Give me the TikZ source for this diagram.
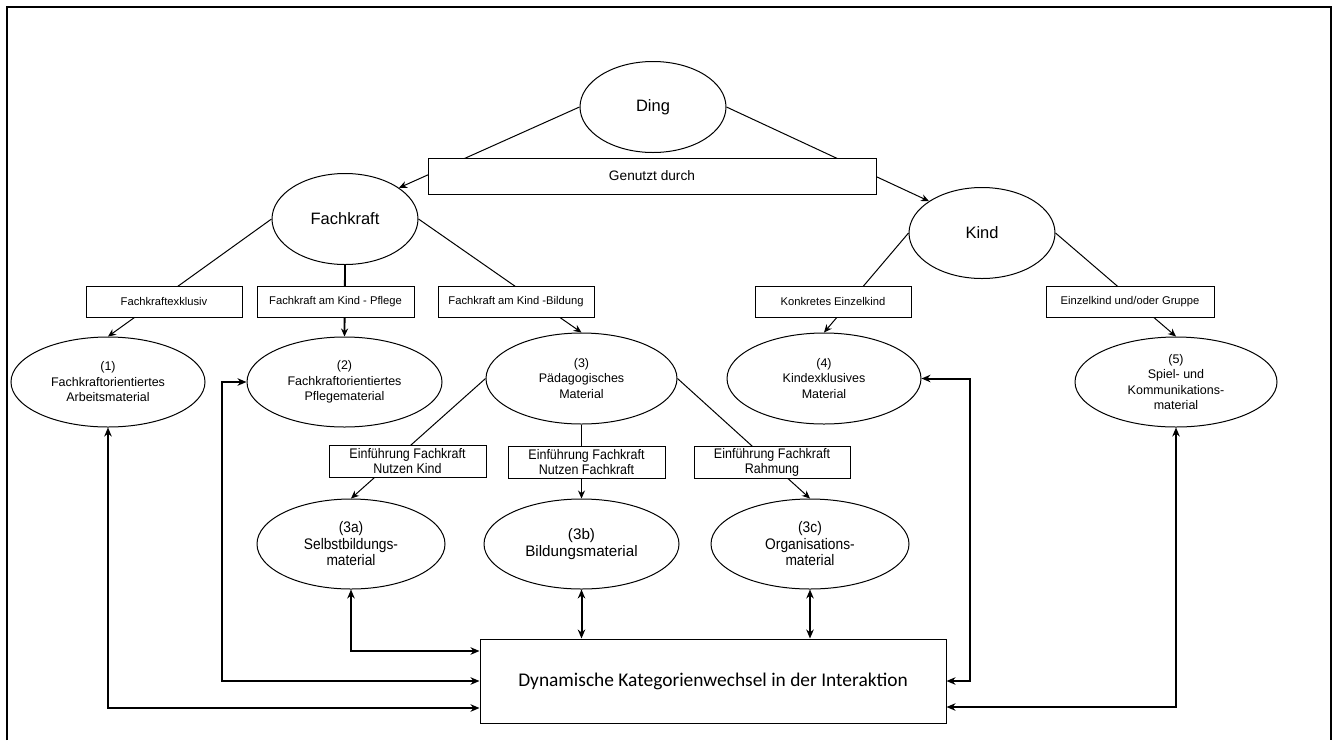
\documentclass[tikz,border=0pt]{standalone}
\usepackage{fontspec}
\setmainfont{Liberation Sans}
\newfontfamily\narrowsans[FakeStretch=0.9]{Liberation Sans}
\newfontfamily\calibrisans{Carlito}
\usetikzlibrary{shapes.geometric, arrows.meta, backgrounds}

\begin{document}
\begin{tikzpicture}[x=1pt, y=-1pt,
      ell/.style={ellipse, draw, fill=white, inner sep=0pt, align=center, line width=1pt, font=\fontsize{12.5}{15.5}\selectfont},
      topell/.style={ell, minimum width=146pt, minimum height=91pt, font=\fontsize{16.5}{19}\selectfont},
      subell/.style={ell, minimum height=90pt, font=\narrowsans\fontsize{15.3}{16.5}\selectfont},
      lbl/.style={rectangle, draw, fill=white, inner sep=0pt, align=center, line width=1pt, minimum height=31pt, font=\fontsize{11.2}{13}\selectfont},
      sublbl/.style={lbl, minimum width=157pt, minimum height=32pt, font=\narrowsans\fontsize{13.9}{15}\selectfont},
      arrow/.style={line width=1pt, -{Stealth[length=8pt, width=7pt]}},
      dblarrow/.style={line width=2pt, {Stealth[length=9pt, width=7.5pt]}-{Stealth[length=9pt, width=7.5pt]}}]

      \useasboundingbox (0,0) rectangle (1338,740);
      \draw[line width=2.5pt] (7,740) -- (7,7) -- (1331,7) -- (1331,740);

      % top level
      \node[topell] (ding) at (653,107) {Ding};
      \node[lbl, minimum width=448pt, minimum height=36pt, font=\fontsize{13.7}{16}\selectfont] (genutzt) at (652,176) {Genutzt durch};
      \node[topell] (fk) at (345,219) {Fachkraft};
      \node[topell] (kind) at (982,233) {Kind};

      % second level
      \node[lbl, minimum width=156pt] (exkl) at (164,301.5) {Fachkraftexklusiv};
      \node[lbl, minimum width=157pt] (pflege) at (335.5,301.5) {Fachkraft am Kind - Pflege};
      \node[lbl, minimum width=156pt] (bildung) at (516,301.5) {Fachkraft am Kind -Bildung};
      \node[lbl, minimum width=156pt] (einzel) at (833,301.5) {Konkretes Einzelkind};
      \node[lbl, minimum width=168pt] (gruppe) at (1130,301.5) {Einzelkind und/oder Gruppe};

      \node[ell, minimum width=194pt, minimum height=90pt] (arbeit) at (108,382) {(1)\\Fachkraftorientiertes\\Arbeitsmaterial};
      \node[ell, minimum width=195pt, minimum height=90pt] (pflegemat) at (344.5,382) {(2)\\Fachkraftorientiertes\\Pflegematerial};
      \node[ell, minimum width=191pt, minimum height=91pt] (paed) at (581.5,378.5) {(3)\\Pädagogisches\\Material};
      \node[ell, minimum width=194pt, minimum height=91pt] (kindmat) at (824,378.5) {(4)\\Kindexklusives\\Material};
      \node[ell, minimum width=202pt, minimum height=90pt] (spiel) at (1176,382) {(5)\\Spiel- und\\Kommunikations-\\material};

      % third level
      \node[sublbl] (nkind) at (407.5,461.5) {Einführung Fachkraft\\Nutzen Kind};
      \node[sublbl] (nfach) at (586.5,462) {Einführung Fachkraft\\Nutzen Fachkraft};
      \node[sublbl, minimum width=156pt] (rahmen) at (772,462) {Einführung Fachkraft\\Rahmung};

      \node[subell, minimum width=188pt] (selbst) at (351,544) {(3a)\\Selbstbildungs-\\material};
      \node[subell, minimum width=195pt, font=\fontsize{15.2}{17.7}\selectfont] (bildmat) at (581.5,544) {(3b)\\Bildungsmaterial};
      \node[subell, minimum width=198pt] (orga) at (810,544) {(3c)\\Organisations-\\material};

      \node[lbl, minimum width=466pt, minimum height=84pt, font=\calibrisans\fontsize{19.4}{22}\selectfont] (dyn) at (713,681) {Dynamische Kategorienwechsel in der Interaktion};

      \begin{scope}[on background layer]
        \draw[arrow] (ding.west) -- (fk.30);
        \draw[arrow] (ding.east) -- (kind.149);
        \draw[arrow] (fk.west) -- (arbeit.north);
        \draw[arrow, line width=1.8pt] (fk.south) -- (pflegemat.north);
        \draw[arrow] (fk.east) -- (paed.north);
        \draw[arrow] (kind.west) -- (kindmat.north);
        \draw[arrow] (kind.east) -- (spiel.north);
        \draw[arrow] (paed.west) -- (selbst.north);
        \draw[arrow] (paed.south) -- (bildmat.north);
        \draw[arrow] (paed.east) -- (orga.north);
      \end{scope}

      % Kategorienwechsel
      \draw[dblarrow] (arbeit.south) |- ([yshift=-27pt]dyn.west);
      \draw[dblarrow] (pflegemat.west) -- ++(-25,0) |- (dyn.west);
      \draw[dblarrow] (selbst.south) |- ([yshift=30pt]dyn.west);
      \draw[dblarrow] (bildmat.south) -- (bildmat.south |- dyn.north);
      \draw[dblarrow] (orga.south) -- (orga.south |- dyn.north);
      \draw[dblarrow] (kindmat.east) -- ++(48,0) |- (dyn.east);
      \draw[dblarrow] (spiel.south) |- ([yshift=-26pt]dyn.east);
\end{tikzpicture}
\end{document}
